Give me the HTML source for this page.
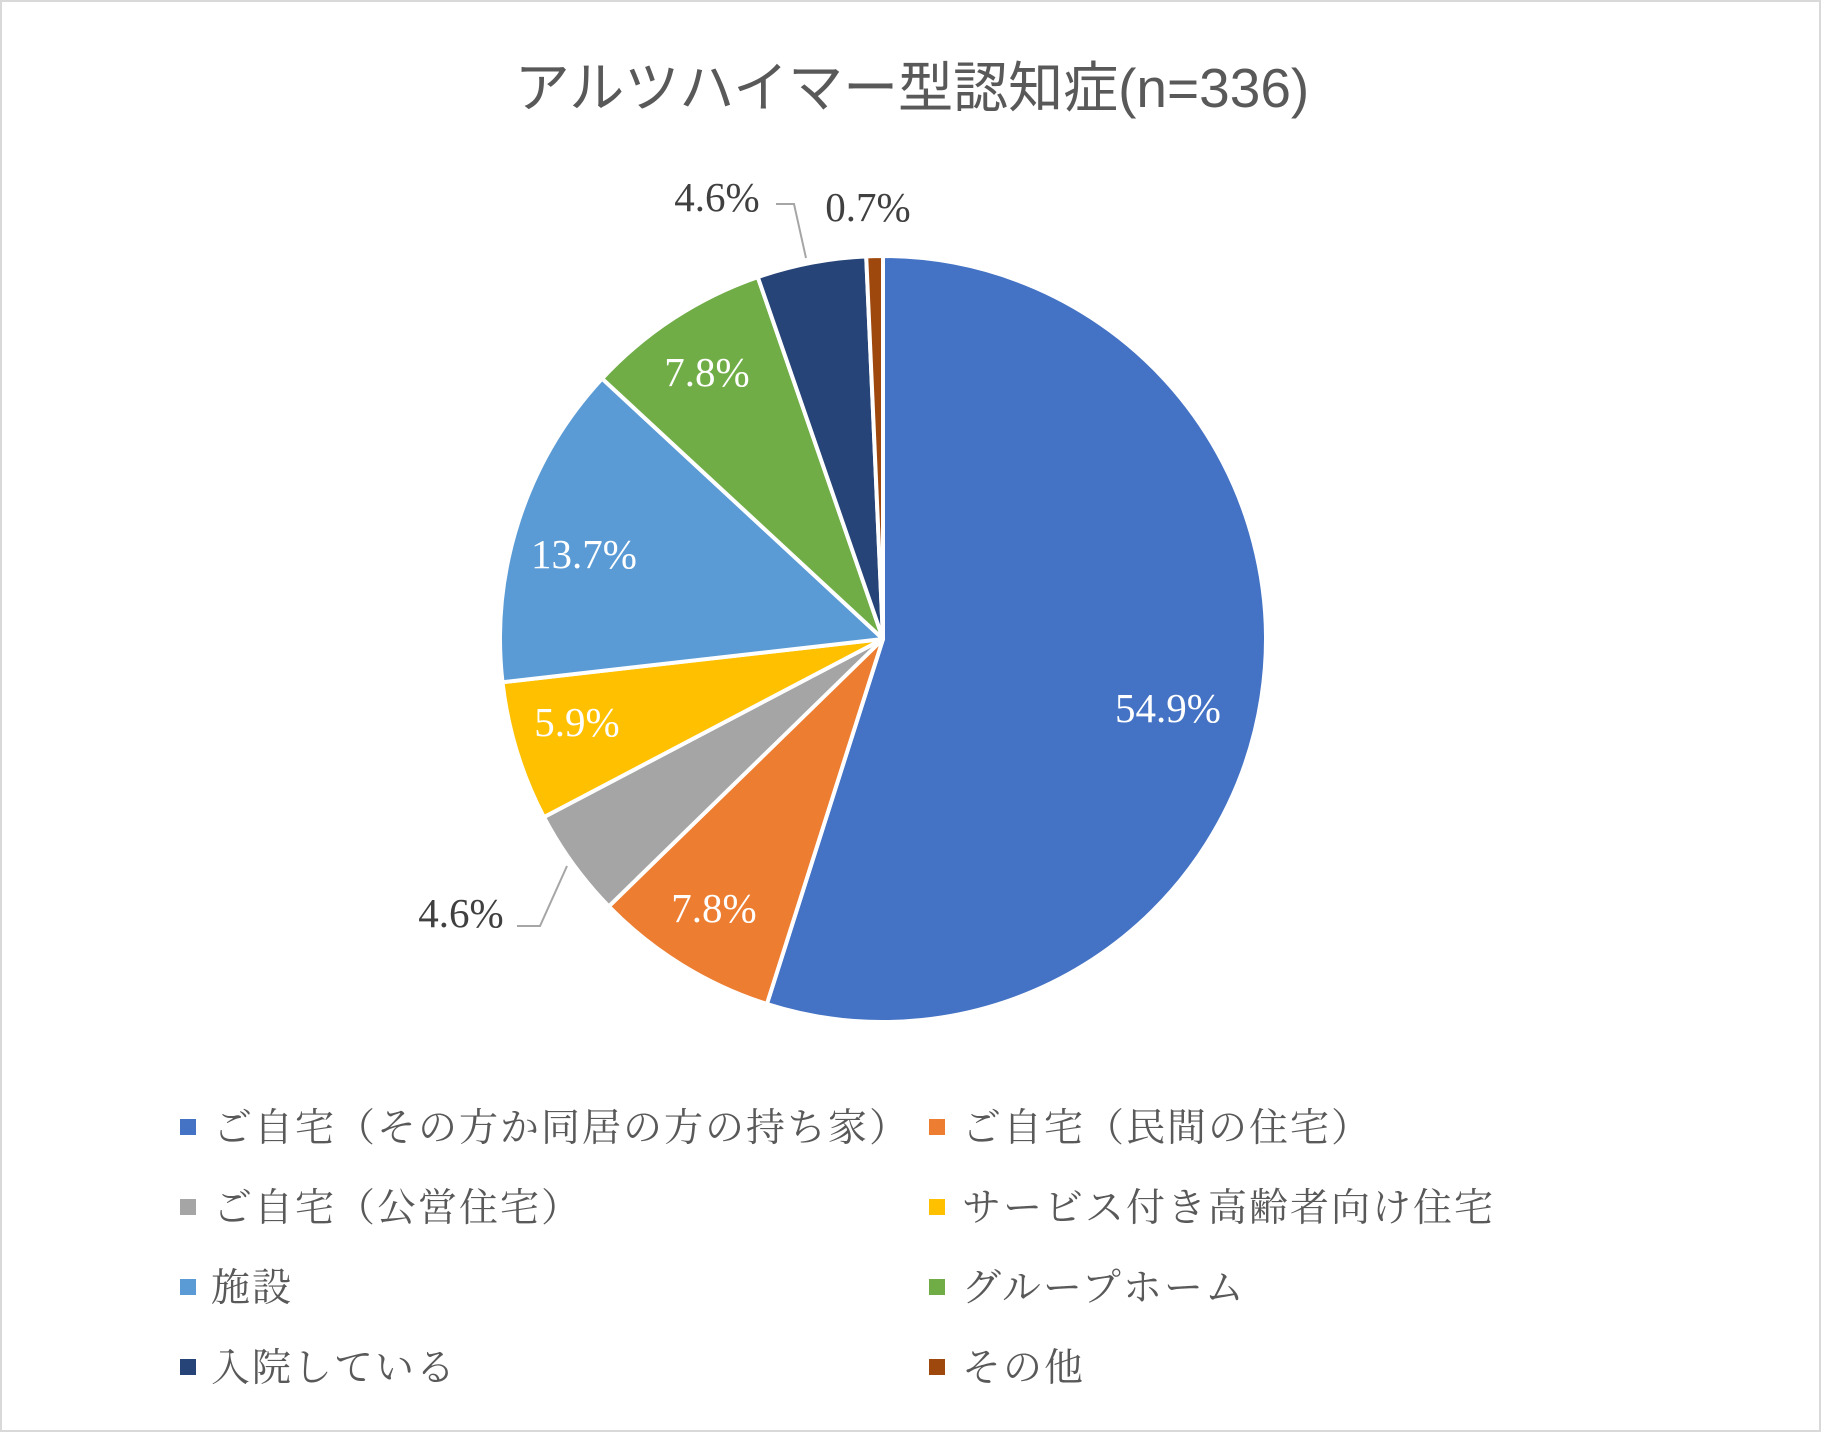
<!DOCTYPE html>
<html><head><meta charset="utf-8"><style>
html,body{margin:0;padding:0;background:#fff;}
svg{display:block;}
</style></head><body>
<svg width="1821" height="1432" viewBox="0 0 1821 1432" xmlns="http://www.w3.org/2000/svg">
<rect x="1" y="1" width="1819" height="1430" fill="#fff" stroke="#d9d9d9" stroke-width="2"/>
<text x="912" y="107" text-anchor="middle" font-family="'Liberation Sans','Noto Sans CJK JP',sans-serif" font-size="55" fill="#595959">アルツハイマー型認知症(n=336)</text>
<g stroke="#fff" stroke-width="4" stroke-linejoin="round">
<path d="M883,639 L883,256 A383,383 0 1 1 766.9,1004 Z" fill="#4472c4"/>
<path d="M883,639 L766.9,1004 A383,383 0 0 1 608.8,906.4 Z" fill="#ed7d31"/>
<path d="M883,639 L608.8,906.4 A383,383 0 0 1 543.9,817.1 Z" fill="#a5a5a5"/>
<path d="M883,639 L543.9,817.1 A383,383 0 0 1 502.5,682.2 Z" fill="#ffc000"/>
<path d="M883,639 L502.5,682.2 A383,383 0 0 1 602.1,378.6 Z" fill="#5b9bd5"/>
<path d="M883,639 L602.1,378.6 A383,383 0 0 1 757.8,277.1 Z" fill="#70ad47"/>
<path d="M883,639 L757.8,277.1 A383,383 0 0 1 866.2,256.4 Z" fill="#264478"/>
<path d="M883,639 L866.2,256.4 A383,383 0 0 1 883,256 Z" fill="#9e480e"/>
</g>
<g fill="none" stroke="#a6a6a6" stroke-width="2">
<polyline points="567,866 540,926 517,926"/>
<polyline points="806,258 794,204 776,204"/>
</g>
<g font-family="'Liberation Serif','Noto Serif CJK JP',serif" font-size="41">
<text x="1168" y="722" text-anchor="middle" fill="#fff">54.9%</text>
<text x="714" y="922" text-anchor="middle" fill="#fff">7.8%</text>
<text x="577" y="736" text-anchor="middle" fill="#fff">5.9%</text>
<text x="584" y="568" text-anchor="middle" fill="#fff">13.7%</text>
<text x="707" y="386" text-anchor="middle" fill="#fff">7.8%</text>
<text x="461" y="927" text-anchor="middle" fill="#404040">4.6%</text>
<text x="717" y="211" text-anchor="middle" fill="#404040">4.6%</text>
<text x="868" y="221" text-anchor="middle" fill="#404040">0.7%</text>
</g>
<g font-family="'Liberation Serif','Noto Serif CJK JP',serif" font-size="39" letter-spacing="2" fill="#595959">
<rect x="180" y="1119" width="16" height="16" fill="#4472c4"/>
<text x="213" y="1141">ご自宅（その方か同居の方の持ち家）</text>
<rect x="929" y="1119" width="16" height="16" fill="#ed7d31"/>
<text x="962" y="1141">ご自宅（民間の住宅）</text>
<rect x="180" y="1199" width="16" height="16" fill="#a5a5a5"/>
<text x="213" y="1221">ご自宅（公営住宅）</text>
<rect x="929" y="1199" width="16" height="16" fill="#ffc000"/>
<text x="962" y="1221">サービス付き高齢者向け住宅</text>
<rect x="180" y="1279" width="16" height="16" fill="#5b9bd5"/>
<text x="211" y="1301">施設</text>
<rect x="929" y="1279" width="16" height="16" fill="#70ad47"/>
<text x="962" y="1301">グループホーム</text>
<rect x="180" y="1359" width="16" height="16" fill="#264478"/>
<text x="211" y="1381">入院している</text>
<rect x="929" y="1359" width="16" height="16" fill="#9e480e"/>
<text x="962" y="1381">その他</text>
</g>
</svg>
</body></html>
